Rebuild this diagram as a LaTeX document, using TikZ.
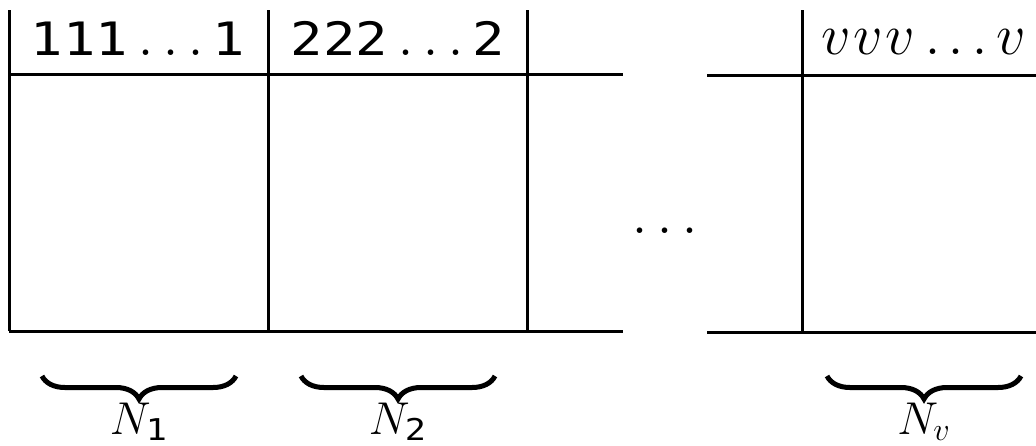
\RequirePackage{fix-cm}
\documentclass[tikz,border=0pt]{standalone}
\usepackage{fontspec}
\newfontfamily\digitfont{DejaVu Sans Mono}[FakeStretch=1.17]
\usetikzlibrary{decorations.pathreplacing}

% three spaced dots, each in a box of the given width
\newcommand\dotrun[1]{{\fontsize{34}{34}\selectfont\makebox[#1]{.}\makebox[#1]{.}\makebox[#1]{.}}}
\newcommand\digits[1]{{\fontsize{23}{26}\selectfont\digitfont #1}}
\newcommand\vcell{\makebox[16pt]{\fontsize{29}{32}\selectfont$v$}}

\begin{document}
\begin{tikzpicture}[x=0.5pt, y=-0.5pt,
    rule/.style={line width=1.5pt},
    head/.style={anchor=base, inner sep=0pt, font=\fontsize{26}{30}\selectfont},
    count/.style={anchor=base, inner sep=0pt, font=\fontsize{23}{26}\selectfont},
    underbr/.style={decorate, decoration={brace, mirror, amplitude=11.5pt}, line width=2.5pt}]

    \useasboundingbox (0,0) rectangle (1036,445);

    % Column positions
    \def\colA{9}
    \def\colB{268}
    \def\colC{527}
    \def\gapL{623}
    \def\gapR{707}
    \def\colV{802}
    \def\rightEnd{1036}

    % Row positions
    \def\topY{10}
    \def\headY{74}
    \def\baseY{331}

    % =========================================================================
    % Left block: columns 1, 2 and the start of column 3
    % =========================================================================
    \draw[rule] (\colA, \headY) -- (\gapL, \headY);
    \draw[rule] (\colA, \baseY) -- (\gapL, \baseY);
    \draw[rule] (\colA, \topY) -- (\colA, \baseY);
    \draw[rule] (\colB, \topY) -- (\colB, \baseY);
    \draw[rule] (\colC, \topY) -- (\colC, \baseY);

    \node[head] (headOne) at (138, 55) {\digits{111}\hspace{3pt}\dotrun{12.5pt}\hspace{2pt}\digits{1}};
    \node[head] (headTwo) at (398, 55) {\digits{222}\hspace{3pt}\dotrun{12.5pt}\hspace{2pt}\digits{2}};

    % =========================================================================
    % Gap between the blocks
    % =========================================================================
    \node[head] (gapDots) at (665, 233) {\dotrun{12.5pt}};

    % =========================================================================
    % Right block: last column
    % =========================================================================
    \draw[rule] (\gapR, \headY+1) -- (\rightEnd, \headY+1);
    \draw[rule] (\gapR, \baseY+1) -- (\rightEnd, \baseY+1);
    \draw[rule] (\colV, \topY) -- (\colV, \baseY+1);

    \node[head] (headV) at (924, 54) {\vcell\vcell\vcell\hspace{2.4pt}\dotrun{11.75pt}\hspace{1.9pt}\vcell};

    % =========================================================================
    % Braces with counts
    % =========================================================================
    \draw[underbr] (42, 376) -- (236, 376);
    \draw[underbr] (301, 376) -- (495, 376);
    \draw[underbr] (827, 376) -- (1021, 376);

    \node[count] (countOne) at (139, 434) {$N_{\mbox{\fontsize{15}{18}\digitfont 1}}$};
    \node[count] (countTwo) at (398, 434) {$N_{\mbox{\fontsize{15}{18}\digitfont 2}}$};
    \node[count] (countV) at (924, 434) {$N_v$};

\end{tikzpicture}
\end{document}
